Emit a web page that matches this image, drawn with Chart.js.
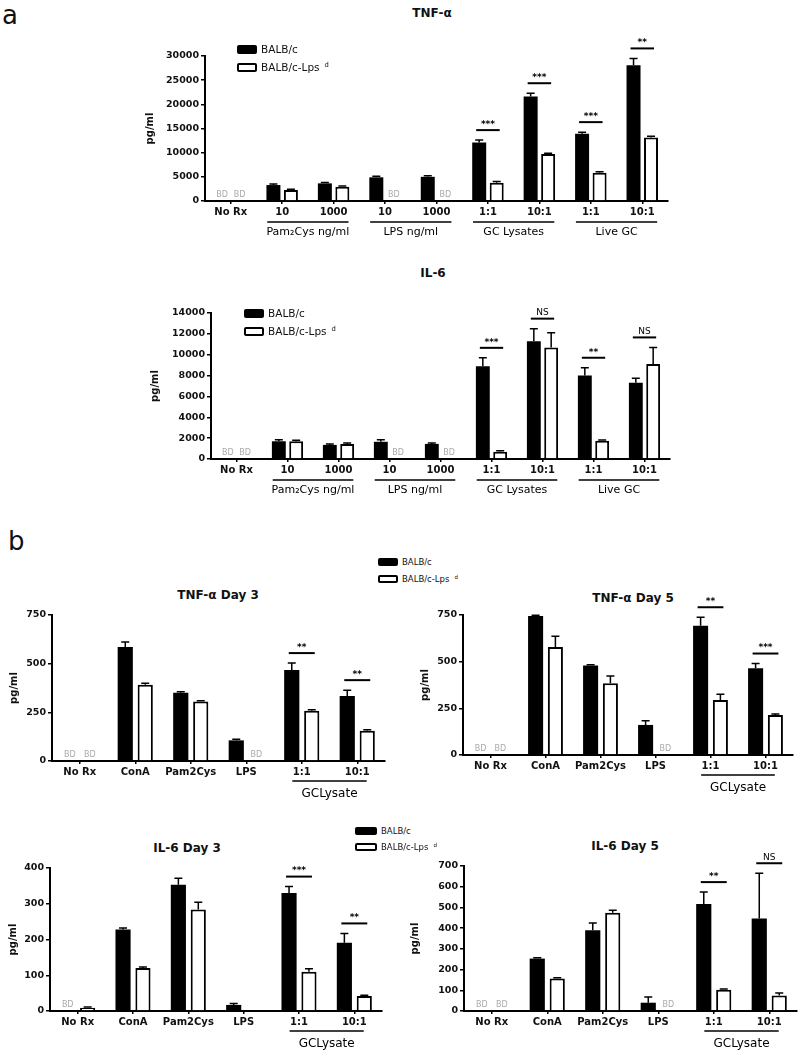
<!DOCTYPE html>
<html>
<head>
<meta charset="utf-8">
<script src="https://cdn.jsdelivr.net/npm/chart.js@4.4.1/dist/chart.umd.min.js"></script>
<style>
html, body { margin: 0; padding: 0; background: #fff; overflow: hidden; }
#page { position: relative; width: 800px; height: 1050px; font-family: "DejaVu Sans", sans-serif; color: #111; }
canvas { position: absolute; }
.c { position: absolute; transform: translate(-50%, -50%); white-space: nowrap; font-weight: bold; }
.lgtxt { position: absolute; transform: translateY(-50%); white-space: nowrap; }
.box { position: absolute; box-sizing: border-box; border: 2px solid #000; border-radius: 2px; }
</style>
</head>
<body>
<div id="page">
  <div style="position:absolute;left:2px;top:0px;font-size:26px;">a</div>
  <div style="position:absolute;left:8px;top:526px;font-size:26px;">b</div>
  <div class="c" style="left:432px;top:13px;font-size:12px;">TNF-α</div>
  <div class="c" style="left:433px;top:273px;font-size:12px;">IL-6</div>
  <div class="c" style="left:218px;top:595px;font-size:12px;">TNF-α Day 3</div>
  <div class="c" style="left:633px;top:598px;font-size:12px;">TNF-α Day 5</div>
  <div class="c" style="left:187px;top:848px;font-size:12px;">IL-6 Day 3</div>
  <div class="c" style="left:625px;top:846px;font-size:12px;">IL-6 Day 5</div>
  <canvas id="tnfA" width="10" height="10"></canvas>
  <canvas id="il6A" width="10" height="10"></canvas>
  <canvas id="tnfD3" width="10" height="10"></canvas>
  <canvas id="tnfD5" width="10" height="10"></canvas>
  <canvas id="il6D3" width="10" height="10"></canvas>
  <canvas id="il6D5" width="10" height="10"></canvas>
</div>
<script>
// ---- data: panel a ----
var aCats = ['No Rx', '10', '1000', '10', '1000', '1:1', '10:1', '1:1', '10:1'];
var aGroups = [
  { label: 'Pam\u2082Cys ng/ml', from: 1, to: 2 },
  { label: 'LPS ng/ml', from: 3, to: 4 },
  { label: 'GC Lysates', from: 5, to: 6 },
  { label: 'Live GC', from: 7, to: 8 }
];
// null = BD (below detection)
var tnfBalb    = [null, 3300, 3650, 4900, 5000, 12100, 21600, 13900, 28100];
var tnfBalbErr = [0, 200, 200, 200, 250, 500, 700, 350, 1400];
var tnfLps     = [null, 2300, 2950, null, null, 3800, 9700, 5850, 13150];
var tnfLpsErr  = [0, 150, 150, 0, 0, 250, 200, 200, 250];
var tnfSig     = ['', '', '', '', '', '***', '***', '***', '**'];

var il6Balb    = [null, 1700, 1350, 1650, 1450, 8900, 11300, 8000, 7300];
var il6BalbErr = [0, 150, 100, 200, 80, 800, 1200, 750, 450];
var il6Lps     = [null, 1700, 1450, null, null, 700, 10700, 1750, 9100];
var il6LpsErr  = [0, 100, 80, 0, 0, 80, 1400, 60, 1600];
var il6Sig     = ['', '', '', '', '', '***', 'NS', '**', 'NS'];

// ---- data: panel b ----
var bCats = ['No Rx', 'ConA', 'Pam2Cys', 'LPS', '1:1', '10:1'];
var bGroups = [{ label: 'GCLysate', from: 4, to: 5 }];

var d3TnfBalb    = [null, 586, 350, 106, 468, 334];
var d3TnfBalbErr = [0, 25, 6, 6, 35, 30];
var d3TnfLps     = [null, 392, 306, null, 258, 155];
var d3TnfLpsErr  = [0, 8, 4, 0, 5, 5];
var d3TnfSig     = ['', '', '', '', '**', '**'];

var d5TnfBalb    = [null, 745, 480, 161, 693, 465];
var d5TnfBalbErr = [0, 3, 3, 22, 45, 25];
var d5TnfLps     = [null, 578, 385, null, 295, 214];
var d5TnfLpsErr  = [0, 58, 38, 0, 30, 5];
var d5TnfSig     = ['', '', '', '', '**', '***'];

var d3Il6Balb    = [null, 228, 353, 17, 330, 191];
var d3Il6BalbErr = [0, 4, 18, 4, 18, 26];
var d3Il6Lps     = [9, 120, 284, 0, 110, 42];
var d3Il6LpsErr  = [2, 3, 20, 0, 8, 2];
var d3Il6Sig     = ['', '', '', '', '***', '**'];

var d5Il6Balb    = [null, 253, 390, 40, 516, 447];
var d5Il6BalbErr = [0, 4, 35, 28, 58, 218];
var d5Il6Lps     = [null, 157, 474, null, 103, 75];
var d5Il6LpsErr  = [0, 3, 12, 0, 3, 12];
var d5Il6Sig     = ['', '', '', '', '**', 'NS'];

Chart.defaults.font.family = '"DejaVu Sans", sans-serif';
Chart.defaults.color = '#111';

// error bars, BD labels, significance bars and group underlines
var marks = {
  id: 'marks',
  afterDatasetsDraw: function (chart, args, o) {
    var ctx = chart.ctx, xs = chart.scales.x, ys = chart.scales.y;
    var base = ys.getPixelForValue(0);
    var step = xs.getPixelForValue(1) - xs.getPixelForValue(0);
    ctx.save();
    ctx.strokeStyle = '#000';
    ctx.fillStyle = '#000';
    var tops = [];
    chart.data.datasets.forEach(function (ds, i) {
      var meta = chart.getDatasetMeta(i);
      ds.data.forEach(function (v, j) {
        var bar = meta.data[j];
        if (v === null) {
          ctx.font = '8px "DejaVu Sans"';
          ctx.fillStyle = '#aaa';
          ctx.textAlign = 'center';
          ctx.textBaseline = 'middle';
          ctx.fillText('BD', bar.x, base - 6);
          ctx.fillStyle = '#000';
          return;
        }
        var e = ds.err[j] || 0;
        var yt = ys.getPixelForValue(v + e);
        tops[j] = Math.min(tops[j] === undefined ? 1e9 : tops[j], yt);
        if (!e) return;
        var y0 = ys.getPixelForValue(v);
        ctx.lineWidth = 1.5;
        ctx.beginPath();
        ctx.moveTo(bar.x, y0); ctx.lineTo(bar.x, yt);
        ctx.moveTo(bar.x - 4, yt); ctx.lineTo(bar.x + 4, yt);
        ctx.stroke();
      });
    });
    var m0 = chart.getDatasetMeta(0), m1 = chart.getDatasetMeta(1);
    o.sig.forEach(function (s, j) {
      if (!s) return;
      var ly = tops[j] - 10;
      ctx.lineWidth = 2;
      ctx.beginPath();
      ctx.moveTo(m0.data[j].x - 3, ly); ctx.lineTo(m1.data[j].x + 3, ly);
      ctx.stroke();
      ctx.font = (s === 'NS' ? '' : 'bold ') + '9px "DejaVu Sans"';
      ctx.textAlign = 'center';
      ctx.textBaseline = 'bottom';
      ctx.fillText(s, (m0.data[j].x + m1.data[j].x) / 2, ly - 1);
    });
    o.groups.forEach(function (g) {
      var x1 = xs.getPixelForValue(g.from) - o.ext * step;
      var x2 = xs.getPixelForValue(g.to) + o.ext * step;
      var ly = chart.chartArea.bottom + o.lineY;
      ctx.lineWidth = 1.5;
      ctx.beginPath();
      ctx.moveTo(x1, ly); ctx.lineTo(x2, ly);
      ctx.stroke();
      ctx.font = o.groupFont;
      ctx.textAlign = 'center';
      ctx.textBaseline = 'middle';
      ctx.fillText(g.label, (x1 + x2) / 2, chart.chartArea.bottom + o.labelY);
    });
    ctx.restore();
  }
};

function makeChart(cfg) {
  var cv = document.getElementById(cfg.id);
  var padTop = 30, padRight = 8;
  var w = cfg.right + padRight - cfg.left;
  var h = (cfg.bottom - cfg.top) + padTop + cfg.below;
  cv.width = w; cv.height = h;
  cv.style.left = cfg.left + 'px';
  cv.style.top = (cfg.top - padTop) + 'px';
  var yw = cfg.axisX - cfg.left;
  new Chart(cv, {
    type: 'bar',
    data: {
      labels: cfg.cats,
      datasets: [
        { label: 'BALB/c', data: cfg.balb, err: cfg.balbErr, backgroundColor: '#000', borderWidth: 0 },
        { label: 'BALB/c-Lps d', data: cfg.lps, err: cfg.lpsErr, backgroundColor: '#fff', borderColor: '#000', borderWidth: 2 }
      ]
    },
    options: {
      responsive: false,
      animation: false,
      categoryPercentage: cfg.catPct,
      barPercentage: cfg.barPct,
      layout: { padding: { top: padTop, right: padRight, left: 0, bottom: 0 } },
      plugins: {
        legend: { display: false },
        tooltip: { enabled: false },
        marks: { sig: cfg.sig, groups: cfg.groups, ext: cfg.ext, lineY: cfg.lineY, labelY: cfg.labelY, groupFont: cfg.groupFont }
      },
      scales: {
        x: {
          grid: { offset: false, drawOnChartArea: false, tickLength: 3, color: '#000', lineWidth: 1.5 },
          border: { color: '#000', width: 2 },
          ticks: { font: { size: 10, weight: 'bold' }, padding: 2, maxRotation: 0, autoSkip: false },
          afterFit: function (s) { s.height = cfg.below; }
        },
        y: {
          min: 0, max: cfg.yMax,
          grid: { drawOnChartArea: false, tickLength: 4, color: '#000', lineWidth: 1.5 },
          border: { color: '#000', width: 2 },
          ticks: { stepSize: cfg.yStep, font: { size: 9.5, weight: 'bold' }, padding: 2,
                   callback: function (v) { return String(v); } },
          title: { display: true, text: 'pg/ml', font: { size: 10, weight: 'bold' }, padding: 4 },
          afterFit: function (s) { s.width = yw; }
        }
      }
    },
    plugins: [marks]
  });
}

var styleA = { catPct: 0.68, barPct: 0.8, ext: 0.29, lineY: 21, labelY: 31, groupFont: '11px "DejaVu Sans"', below: 42 };
var styleB = { catPct: 0.72, barPct: 0.76, ext: 0.17, lineY: 20, labelY: 33, groupFont: '12px "DejaVu Sans"', below: 39 };

function ext(a, b) { var r = {}; for (var k in a) r[k] = a[k]; for (var k2 in b) r[k2] = b[k2]; return r; }

makeChart(ext(styleA, { id: 'tnfA', left: 140, axisX: 205, top: 56, bottom: 201, right: 668,
  cats: aCats, groups: aGroups, balb: tnfBalb, balbErr: tnfBalbErr, lps: tnfLps, lpsErr: tnfLpsErr, sig: tnfSig, yMax: 30000, yStep: 5000 }));
makeChart(ext(styleA, { id: 'il6A', left: 145, axisX: 211, top: 313, bottom: 459, right: 670,
  cats: aCats, groups: aGroups, balb: il6Balb, balbErr: il6BalbErr, lps: il6Lps, lpsErr: il6LpsErr, sig: il6Sig, yMax: 14000, yStep: 2000 }));
makeChart(ext(styleB, { id: 'tnfD3', left: 4, axisX: 52, top: 615, bottom: 761, right: 385,
  cats: bCats, groups: bGroups, balb: d3TnfBalb, balbErr: d3TnfBalbErr, lps: d3TnfLps, lpsErr: d3TnfLpsErr, sig: d3TnfSig, yMax: 750, yStep: 250 }));
makeChart(ext(styleB, { id: 'tnfD5', left: 415, axisX: 463, top: 615, bottom: 755, right: 793,
  cats: bCats, groups: bGroups, balb: d5TnfBalb, balbErr: d5TnfBalbErr, lps: d5TnfLps, lpsErr: d5TnfLpsErr, sig: d5TnfSig, yMax: 750, yStep: 250 }));
makeChart(ext(styleB, { id: 'il6D3', left: 3, axisX: 50, top: 868, bottom: 1011, right: 382,
  cats: bCats, groups: bGroups, balb: d3Il6Balb, balbErr: d3Il6BalbErr, lps: d3Il6Lps, lpsErr: d3Il6LpsErr, sig: d3Il6Sig, yMax: 400, yStep: 100 }));
makeChart(ext(styleB, { id: 'il6D5', left: 405, axisX: 464, top: 866, bottom: 1011, right: 797,
  cats: bCats, groups: bGroups, balb: d5Il6Balb, balbErr: d5Il6BalbErr, lps: d5Il6Lps, lpsErr: d5Il6LpsErr, sig: d5Il6Sig, yMax: 700, yStep: 100 }));

// legends (HTML)
function legend(x, y1, y2, size, bw, bh) {
  var page = document.getElementById('page');
  [[y1, '#000', 'BALB/c'], [y2, '#fff', 'BALB/c-Lps<sup style="font-size:0.65em;margin-left:5px">d</sup>']].forEach(function (r) {
    var b = document.createElement('div');
    b.className = 'box';
    b.style.cssText = 'left:' + x + 'px;top:' + (r[0] - bh / 2) + 'px;width:' + bw + 'px;height:' + bh + 'px;background:' + r[1];
    page.appendChild(b);
    var t = document.createElement('div');
    t.className = 'lgtxt';
    t.style.cssText = 'left:' + (x + bw + 4) + 'px;top:' + r[0] + 'px;font-size:' + size + 'px';
    t.innerHTML = r[2];
    page.appendChild(t);
  });
}
legend(237, 49, 67, 10.5, 20, 9);
legend(244, 313, 331, 10.5, 20, 9);
legend(378, 562, 579, 8.5, 20, 8);
legend(355, 831, 847, 8.5, 22, 8);
</script>
</body>
</html>
